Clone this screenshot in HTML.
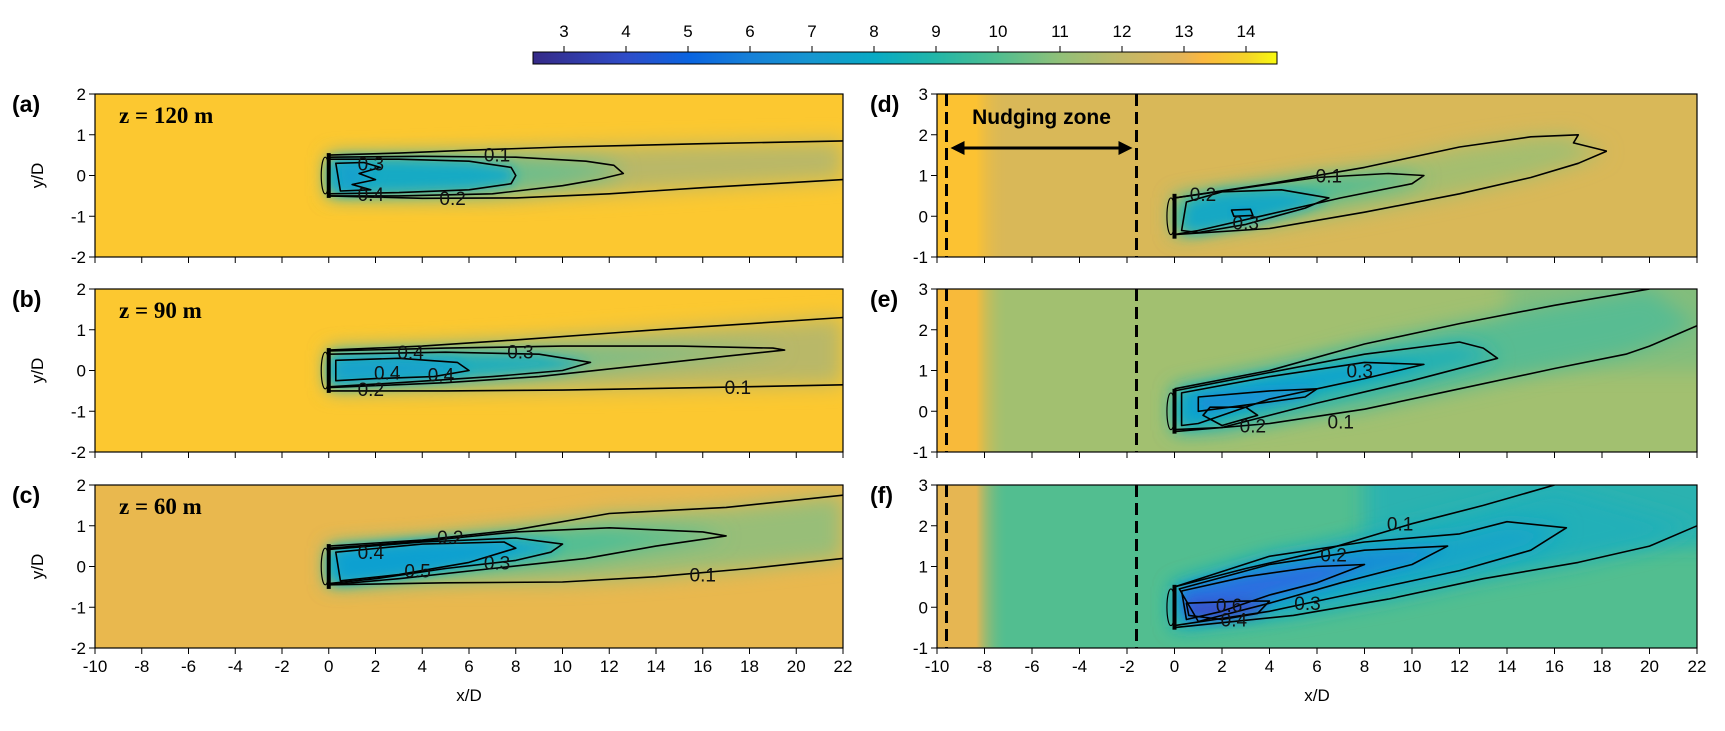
<!DOCTYPE html>
<html><head><meta charset="utf-8">
<style>
html,body{margin:0;padding:0;background:#fff;}
svg{display:block;font-family:"Liberation Sans","DejaVu Sans",sans-serif;}
</style></head>
<body>
<svg id="fig" width="1725" height="731" viewBox="0 0 1725 731" xmlns="http://www.w3.org/2000/svg">
<defs>
<linearGradient id="cmap" x1="0" x2="1" y1="0" y2="0">
<stop offset="0" stop-color="#352a87"/><stop offset="0.125" stop-color="#2f4cc8"/>
<stop offset="0.21" stop-color="#0a64e0"/><stop offset="0.29" stop-color="#1680d8"/>
<stop offset="0.375" stop-color="#1696d0"/><stop offset="0.46" stop-color="#08aac4"/>
<stop offset="0.54" stop-color="#22b6a8"/><stop offset="0.625" stop-color="#50be90"/>
<stop offset="0.71" stop-color="#92c078"/><stop offset="0.79" stop-color="#c0b868"/>
<stop offset="0.875" stop-color="#e6b456"/><stop offset="0.9" stop-color="#fbb840"/>
<stop offset="0.96" stop-color="#f4d428"/><stop offset="1" stop-color="#f8fa10"/>
</linearGradient>
<filter id="blur" x="-20%" y="-50%" width="140%" height="200%"><feGaussianBlur stdDeviation="10"/></filter>
<filter id="blur2" x="-20%" y="-50%" width="140%" height="200%"><feGaussianBlur stdDeviation="6"/></filter>
</defs>
</svg>
<script>
// ---- colorbar data ----
const cbTicks = [3,4,5,6,7,8,9,10,11,12,13,14];
const cbMin = 2.5, cbMax = 14.5;
// ---- panel meta ----
const panelIds = ['a','b','c','d','e','f'];
const panelHeights = ['z = 120 m','z = 90 m','z = 60 m','','',''];
const xTicks = [-10,-8,-6,-4,-2,0,2,4,6,8,10,12,14,16,18,20,22];
const yTicksLeft = [-2,-1,0,1,2];
const yTicksRight = [-1,0,1,2,3];
const nudgeLines = [-9.6,-1.6];
// ---- contour data (x/D, y/D) ----
const a_c1_up = [[0,0.5],[3,0.55],[6,0.62],[10,0.7],[16,0.78],[22,0.85]];
const a_c1_lo = [[0,-0.5],[4,-0.56],[8,-0.55],[12,-0.45],[16,-0.3],[22,-0.1]];
const a_c2 = [[0,0.45],[4,0.47],[8,0.45],[11,0.35],[12.2,0.25],[12.6,0.05],[11.5,-0.1],[10,-0.25],[7,-0.45],[3,-0.5],[0,-0.5]];
const a_c3 = [[0,0.4],[3,0.4],[6,0.35],[7.8,0.2],[8,0],[7.8,-0.2],[6,-0.35],[3,-0.42],[0,-0.45]];
const a_c4 = [[0.3,0.3],[1.5,0.32],[2.2,0.2],[1.3,0.05],[2,-0.1],[1,-0.22],[1.8,-0.35],[0.5,-0.38]];
const b_c1_up = [[0,0.5],[4,0.6],[8,0.75],[14,1.0],[22,1.3]];
const b_c1_lo = [[0,-0.5],[5,-0.5],[10,-0.48],[16,-0.42],[22,-0.35]];
const b_c2 = [[0,0.48],[5,0.55],[10,0.6],[15,0.6],[19,0.55],[19.5,0.5],[17,0.35],[13,0.1],[9,-0.15],[5,-0.3],[0,-0.42]];
const b_c3 = [[0,0.4],[5,0.45],[9,0.4],[11.2,0.2],[10,0],[7,-0.15],[3,-0.3],[0,-0.4]];
const b_c4 = [[0.3,0.25],[3,0.3],[5.5,0.2],[6,0],[4.5,-0.15],[2,-0.2],[0.3,-0.25]];
const c_c1_up = [[0,0.5],[4,0.65],[8,0.9],[12,1.3],[17,1.45],[22,1.75]];
const c_c1_lo = [[0,-0.45],[5,-0.4],[10,-0.38],[14,-0.25],[18,-0.05],[22,0.2]];
const c_c2 = [[0,0.45],[4,0.62],[8,0.85],[12,0.95],[16,0.85],[17,0.75],[14,0.5],[11,0.2],[7,-0.05],[3,-0.3],[0,-0.45]];
const c_c3 = [[0,0.42],[4,0.6],[8,0.7],[10,0.55],[9.5,0.35],[8,0.15],[5,-0.05],[2,-0.3],[0,-0.42]];
const c_c4 = [[0.3,0.35],[4,0.55],[7.5,0.6],[8,0.45],[6,0.1],[3,-0.2],[0.5,-0.35]];
const d_c1_up = [[0,0.45],[4,0.8],[8,1.2],[12,1.7],[15,1.95],[17,2.0],[16.8,1.8],[18.2,1.6]];
const d_c1_lo = [[0,-0.45],[4,-0.3],[8,0.1],[12,0.55],[15,0.95],[17,1.3],[18.2,1.6]];
const d_c2 = [[0,0.45],[3,0.7],[6,0.95],[9,1.05],[10.5,1.0],[10,0.8],[7,0.45],[4,0.05],[1,-0.35],[0,-0.45]];
const d_c3 = [[0.5,0.35],[2,0.6],[4.5,0.65],[6.5,0.45],[5.5,0.2],[3,-0.2],[1,-0.4],[0.3,-0.35]];
const d_c4 = [[2.4,0.15],[3.2,0.17],[3.3,0.02],[2.5,0],[2.4,0.15]];
const e_c1_up = [[0,0.55],[4,1.0],[8,1.65],[12,2.15],[16,2.6],[20,3.0]];
const e_c1_lo = [[0,-0.5],[4,-0.3],[8,0.05],[12,0.55],[16,1.05],[19,1.4],[20,1.6],[22,2.1]];
const e_c2 = [[0,0.5],[4,0.95],[8,1.4],[12,1.7],[13,1.55],[13.6,1.3],[10,0.75],[6,0.2],[2,-0.4],[0,-0.45]];
const e_c3 = [[0.3,0.45],[4,0.85],[8,1.2],[10.5,1.15],[8,0.8],[4,0.3],[1,-0.3],[0.3,-0.35]];
const e_c4 = [[1,0.35],[4,0.5],[6,0.55],[5.5,0.35],[3,0.15],[1,0.0]];
const e_c5 = [[1.5,0.1],[3,0.1],[3.5,-0.1],[2,-0.35],[1.2,-0.1]];
const f_c1_up = [[0,0.5],[3,0.95],[6,1.35],[10,2.05],[13,2.5],[16,3.0]];
const f_c1_lo = [[0,-0.5],[5,-0.2],[9,0.2],[13,0.7],[17,1.1],[20,1.5],[22,2.0]];
const f_c2 = [[0,0.5],[4,1.25],[8,1.6],[12,1.8],[14,2.1],[16.5,1.95],[15,1.4],[12,0.9],[8,0.4],[4,-0.1],[0,-0.45]];
const f_c3 = [[0.2,0.45],[4,1.05],[8,1.4],[11.5,1.5],[10,1.05],[7,0.6],[4,0.1],[1,-0.35]];
const f_c4 = [[0.3,0.4],[3,0.75],[6,1.0],[8,1.05],[6,0.6],[4,0.3],[2,-0.1],[0.5,-0.3]];
const f_c5 = [[0.5,0.1],[3,0.15],[4,0.15],[3.5,-0.15],[2,-0.3],[0.6,-0.2]];
// contour labels [x,y,text]
const a_labels = [[1.8,0.3,'0.3'],[7.2,0.52,'0.1'],[1.8,-0.45,'0.4'],[5.3,-0.55,'0.2']];
const b_labels = [[3.5,0.45,'0.4'],[8.2,0.47,'0.3'],[2.5,-0.05,'0.4'],[1.8,-0.45,'0.2'],[4.8,-0.1,'0.4'],[17.5,-0.4,'0.1']];
const c_labels = [[5.2,0.72,'0.2'],[1.8,0.35,'0.4'],[3.8,-0.1,'0.5'],[7.2,0.1,'0.3'],[16,-0.2,'0.1']];
const d_labels = [[1.2,0.55,'0.2'],[6.5,1.0,'0.1'],[3.0,-0.15,'0.3']];
const e_labels = [[7.8,1.0,'0.3'],[3.3,-0.35,'0.2'],[7.0,-0.25,'0.1']];
const f_labels = [[9.5,2.05,'0.1'],[6.7,1.3,'0.2'],[5.6,0.1,'0.3'],[2.3,0.05,'0.6'],[2.5,-0.3,'0.4']];

const NS='http://www.w3.org/2000/svg';
const svg=document.getElementById('fig');
function mk(tag,attrs,parent){const e=document.createElementNS(NS,tag);for(const k in attrs)e.setAttribute(k,attrs[k]);(parent||svg).appendChild(e);return e;}

// colorbar
const cbX0=533,cbX1=1277,cbY=52,cbH=12;
function cbx(v){return cbX0+(v-cbMin)/(cbMax-cbMin)*(cbX1-cbX0);}
const cbg=mk('g',{});


mk('rect',{x:cbX0,y:cbY,width:cbX1-cbX0,height:cbH,fill:'url(#cmap)',stroke:'#000','stroke-width':1},cbg);
cbTicks.forEach(t=>{
  mk('line',{x1:cbx(t),x2:cbx(t),y1:cbY-6,y2:cbY,stroke:'#000','stroke-width':1},cbg);
  const tx=mk('text',{x:cbx(t),y:cbY-15,'text-anchor':'middle','font-size':17},cbg);
  
  
  tx.textContent=t;
});

const panels={
 a:{x0:95,y0:94,w:748,h:163,ymin:-2,bg:'#fcc830',core:['#b9b868','#6cbe8c','#18aac4','#14a2cc'],c:[a_c1_up,a_c1_lo,a_c2,a_c3,a_c4],lab:a_labels},
 b:{x0:95,y0:289,w:748,h:163,ymin:-2,bg:'#fcc830',core:['#b9b868','#78be88','#22aeba','#14a2cc'],c:[b_c1_up,b_c1_lo,b_c2,b_c3,b_c4],lab:b_labels},
 c:{x0:95,y0:485,w:748,h:163,ymin:-2,bg:'#e9b84e',core:['#98be78','#4cbe96','#12a8c8','#10a0d0'],c:[c_c1_up,c_c1_lo,c_c2,c_c3,c_c4],lab:c_labels},
 d:{x0:937,y0:94,w:760,h:163,ymin:-1,bg:'#d9b858',inflow:'#fcc232',core:['#a4be70','#44bc98','#18a8c4','#1098d4'],c:[d_c1_up,d_c1_lo,d_c2,d_c3,d_c4],lab:d_labels},
 e:{x0:937,y0:289,w:760,h:163,ymin:-1,bg:'#a2c070',inflow:'#f8ba3a',core:['#58bc92','#20b0b6','#10a4cc','#1a8cd8'],c:[e_c1_up,e_c1_lo,e_c2,e_c3,e_c4,e_c5],lab:e_labels},
 f:{x0:937,y0:485,w:760,h:163,ymin:-1,bg:'#52be90',inflow:'#e6b652',core:['#20b0b8','#14a6c8','#1290d4','#2a6ee0'],c:[f_c1_up,f_c1_lo,f_c2,f_c3,f_c4,f_c5],lab:f_labels}
};

panelIds.forEach((id,pi)=>{
  const P=panels[id];
  const sx=v=>P.x0+(v+10)*P.w/32;
  const sy=v=>P.y0+(P.ymin+4-v)*P.h/4;
  const pts=arr=>arr.map(p=>sx(p[0]).toFixed(1)+','+sy(p[1]).toFixed(1)).join(' ');
  const g=mk('g',{});
  
  
  const cid='clip'+id;
  const cp=mk('clipPath',{id:cid},svg.querySelector('defs'));
  mk('rect',{x:P.x0,y:P.y0,width:P.w,height:P.h},cp);
  const field=mk('g',{'clip-path':'url(#'+cid+')'},g);
  
  
  mk('rect',{x:P.x0,y:P.y0,width:P.w,height:P.h,fill:P.bg},field);
  if(P.inflow){
    const gid='inf'+id;
    const lg=mk('linearGradient',{id:gid,x1:0,x2:1,y1:0,y2:0},svg.querySelector('defs'));
    mk('stop',{offset:0,'stop-color':P.inflow},lg);mk('stop',{offset:0.55,'stop-color':P.inflow},lg);mk('stop',{offset:1,'stop-color':P.bg,'stop-opacity':0},lg);
    mk('rect',{x:P.x0,y:P.y0,width:sx(-7)-P.x0,height:P.h,fill:'url(#'+gid+')'},field);
  }
  if(id==='f'){mk('rect',{x:sx(8),y:P.y0-20,width:P.w,height:sy(1.5)-P.y0+20,fill:'#20b0b8',filter:'url(#blur)',opacity:0.8},field);}
  if(id==='e'){mk('rect',{x:sx(14),y:P.y0-20,width:P.w,height:sy(1.0)-P.y0+20,fill:'#70bc84',filter:'url(#blur)',opacity:0.6},field);}
  // wake fill
  const outer=P.c[0].concat(P.c[1].slice().reverse());
  mk('polygon',{points:pts(outer),fill:P.core[0],filter:'url(#blur)'},field);
  mk('polygon',{points:pts(P.c[2]),fill:P.core[1],filter:'url(#blur)'},field);
  mk('polygon',{points:pts(P.c[3]),fill:P.core[2],filter:'url(#blur2)'},field);
  mk('polygon',{points:pts(P.c[4]),fill:P.core[3],filter:'url(#blur2)'},field);
  if(id==='f'){mk('polygon',{points:pts(f_c5),fill:'#3a50c8',filter:'url(#blur2)'},field);}
  // contour lines
  P.c.forEach((arr,ci)=>{
    const closed=ci>=2;
    const el=mk(closed?'polygon':'polyline',{points:pts(arr),fill:'none',stroke:'#000','stroke-width':1.6,'stroke-linejoin':'round'},field);
    
    
  });
  P.lab.forEach(l=>{
    const t=mk('text',{x:sx(l[0]),y:sy(l[1])+7,'text-anchor':'middle','font-size':19,fill:'#111'},field);
    
    
    t.textContent=l[2];
  });
  // turbine
  const tb=mk('g',{},field);
  
  
  mk('rect',{x:sx(0)-2,y:sy(0.55),width:4,height:sy(-0.55)-sy(0.55),fill:'#000'},tb);
  mk('ellipse',{cx:sx(-0.15),cy:sy(0),rx:4,ry:(sy(-0.45)-sy(0.45))/2,fill:'none',stroke:'#000','stroke-width':1.2},tb);
  // nudging lines
  if(P.inflow){
    nudgeLines.forEach(v=>{
      const ln=mk('line',{x1:sx(v),x2:sx(v),y1:P.y0,y2:P.y0+P.h,stroke:'#000','stroke-width':3,'stroke-dasharray':'12,6'},g);
      
      
    });
  }
  mk('rect',{x:P.x0,y:P.y0,width:P.w,height:P.h,fill:'none',stroke:'#000','stroke-width':1.2},g);
  // ticks
  xTicks.forEach(t=>{
    mk('line',{x1:sx(t),x2:sx(t),y1:P.y0+P.h,y2:P.y0+P.h+6,stroke:'#000','stroke-width':1},g);
    if(id==='c'||id==='f'){
      const tx=mk('text',{x:sx(t),y:P.y0+P.h+24,'text-anchor':'middle','font-size':17},g);
      
      
      tx.textContent=t;
    }
  });
  const yt=P.ymin===-2?yTicksLeft:yTicksRight;
  yt.forEach(t=>{
    mk('line',{x1:P.x0-6,x2:P.x0,y1:sy(t),y2:sy(t),stroke:'#000','stroke-width':1},g);
    const tx=mk('text',{x:P.x0-9,y:sy(t)+6,'text-anchor':'end','font-size':17},g);
    
    
    tx.textContent=t;
  });
  if(pi<3){
    const yl=mk('text',{x:0,y:0,'text-anchor':'middle','font-size':17,transform:'translate('+(P.x0-52)+','+(P.y0+P.h/2)+') rotate(-90)'},g);
    
    
    yl.textContent='y/D';
  }
  const pl=mk('text',{x:pi<3?12:870,y:P.y0+18,'font-size':23,'font-weight':'bold'},g);
  
  
  pl.textContent='('+id+')';
  if(panelHeights[pi]){
    const ht=mk('text',{x:P.x0+24,y:P.y0+29,'font-size':23,'font-weight':'bold','font-family':'Liberation Serif, serif'},g);
    
    
    ht.textContent=panelHeights[pi];
  }
  if(id==='c'||id==='f'){
    const xl=mk('text',{x:P.x0+P.w/2,y:P.y0+P.h+53,'text-anchor':'middle','font-size':17},g);
    
    
    xl.textContent='x/D';
  }
  if(id==='d'){
    const nz=mk('text',{x:(sx(-9.6)+sx(-1.6))/2,y:P.y0+30,'text-anchor':'middle','font-size':21,'font-weight':'bold'},g);
    
    
    nz.textContent='Nudging zone';
    const ay=P.y0+54,x1=sx(-9.6)+4,x2=sx(-1.6)-4;
    const ar=mk('g',{},g);
    
    
    mk('line',{x1:x1+10,x2:x2-10,y1:ay,y2:ay,stroke:'#000','stroke-width':3},ar);
    mk('polygon',{points:x1+','+ay+' '+(x1+14)+','+(ay-7)+' '+(x1+14)+','+(ay+7),fill:'#000'},ar);
    mk('polygon',{points:x2+','+ay+' '+(x2-14)+','+(ay-7)+' '+(x2-14)+','+(ay+7),fill:'#000'},ar);
  }
});
</script>
</body></html>
